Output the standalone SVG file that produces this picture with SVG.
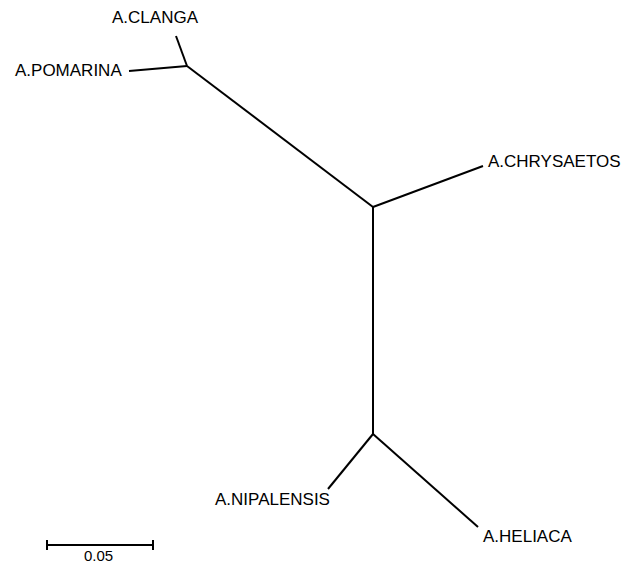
<svg xmlns="http://www.w3.org/2000/svg" width="635" height="564" viewBox="0 0 635 564">
  <style>
    .branch { stroke: #000; stroke-width: 2; fill: none; stroke-linecap: butt; }
    .label { font-family: "Liberation Sans", Arial, sans-serif; font-size: 17px; fill: #000; }
    .scale { font-family: "Liberation Sans", Arial, sans-serif; font-size: 15px; fill: #000; }
  </style>
  <rect width="635" height="564" fill="#fff"/>

  <!-- tree branches -->
  <g id="branches">
    <line class="branch" x1="176" y1="36" x2="187" y2="66"/>
    <line class="branch" x1="129" y1="71" x2="187" y2="66"/>
    <line class="branch" x1="187" y1="66" x2="373" y2="207"/>
    <line class="branch" x1="373" y1="207" x2="483" y2="166"/>
    <line class="branch" x1="373" y1="207" x2="373" y2="434"/>
    <line class="branch" x1="373" y1="434" x2="328" y2="489"/>
    <line class="branch" x1="373" y1="434" x2="478" y2="527"/>
  </g>

  <!-- taxa -->
  <g id="clanga"><text class="label" x="112" y="22.5">A.CLANGA</text></g>
  <g id="pomarina"><text class="label" x="15" y="76">A.POMARINA</text></g>
  <g id="chrysaetos"><text class="label" x="488" y="167">A.CHRYSAETOS</text></g>
  <g id="nipalensis"><text class="label" x="215" y="505">A.NIPALENSIS</text></g>
  <g id="heliaca"><text class="label" x="483" y="542">A.HELIACA</text></g>

  <!-- scale bar -->
  <g id="scalebar">
    <line class="branch" x1="47" y1="545" x2="153" y2="545"/>
    <line class="branch" x1="47" y1="540" x2="47" y2="550"/>
    <line class="branch" x1="153" y1="540" x2="153" y2="550"/>
    <text class="scale" x="98.5" y="561" text-anchor="middle">0.05</text>
  </g>
</svg>
